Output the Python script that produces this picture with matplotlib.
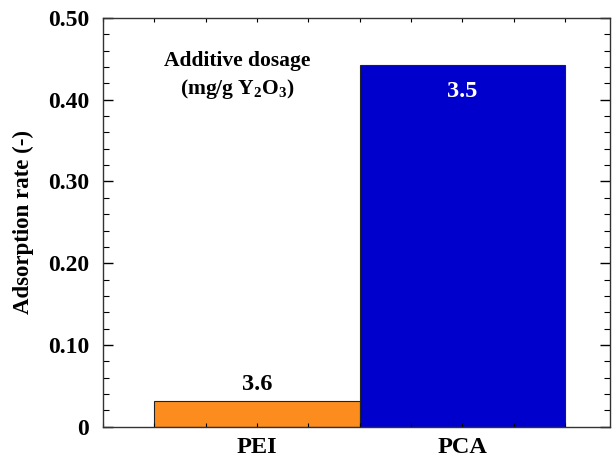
import matplotlib
matplotlib.use('Agg')
import matplotlib.pyplot as plt
from matplotlib.ticker import MultipleLocator, FixedLocator

plt.rcParams['font.family'] = 'Liberation Serif'
plt.rcParams['font.weight'] = 'bold'
plt.rcParams['mathtext.fontset'] = 'custom'
plt.rcParams['mathtext.rm'] = 'Liberation Serif:bold'
plt.rcParams['mathtext.it'] = 'Liberation Serif:bold'
plt.rcParams['mathtext.bf'] = 'Liberation Serif:bold'

# data
categories = ['PEI', 'PCA']
rates = [0.032, 0.442]
dosages = ['3.6', '3.5']
colors = ['#FD8C1E', '#0000CC']

fig = plt.figure(figsize=(6.12, 4.57), dpi=100)
ax = fig.add_axes([0.168, 0.066, 0.829, 0.895])

centers = [3, 7]
ax.bar(centers, rates, width=4, color=colors, edgecolor='#222222', linewidth=0.8)

# dosage labels
ax.text(centers[0], rates[0] + 0.007, dosages[0], ha='center', va='bottom',
        fontsize=17.5, fontweight='bold', color='black')
ax.text(centers[1], rates[1] - 0.019, dosages[1], ha='center', va='top',
        fontsize=17.5, fontweight='bold', color='white')

ax.text(2.62, 0.447, 'Additive dosage', ha='center', va='center', fontsize=15.5, fontweight='bold')
ax.text(2.62, 0.413, '(mg/g Y$_2$O$_3$)', ha='center', va='center', fontsize=15.5, fontweight='bold')

ax.set_xlim(0, 9.88)
ax.set_ylim(0, 0.5)

ax.xaxis.set_major_locator(FixedLocator(centers))
ax.set_xticklabels(categories, fontsize=17.5, fontweight='bold')
ax.xaxis.set_minor_locator(MultipleLocator(1))
ax.yaxis.set_major_locator(MultipleLocator(0.1))
ax.yaxis.set_minor_locator(MultipleLocator(0.02))
ax.set_yticks([0, 0.1, 0.2, 0.3, 0.4, 0.5])
ax.set_yticklabels(['0', '0.10', '0.20', '0.30', '0.40', '0.50'], fontsize=17, fontweight='bold')

ax.tick_params(axis='both', which='both', direction='in', top=True, right=True)
ax.tick_params(axis='y', which='major', length=7, width=1)
ax.tick_params(axis='y', which='minor', length=4, width=0.8)
ax.tick_params(axis='x', which='both', length=3, width=0.8, pad=7)
ax.tick_params(axis='y', which='major', pad=10)

for sp in ax.spines.values():
    sp.set_linewidth(1.0)
    sp.set_color('#333333')

ax.set_ylabel('Adsorption rate (-)', fontsize=16.5, fontweight='bold', labelpad=10)

fig.savefig('out.png', dpi=100)
